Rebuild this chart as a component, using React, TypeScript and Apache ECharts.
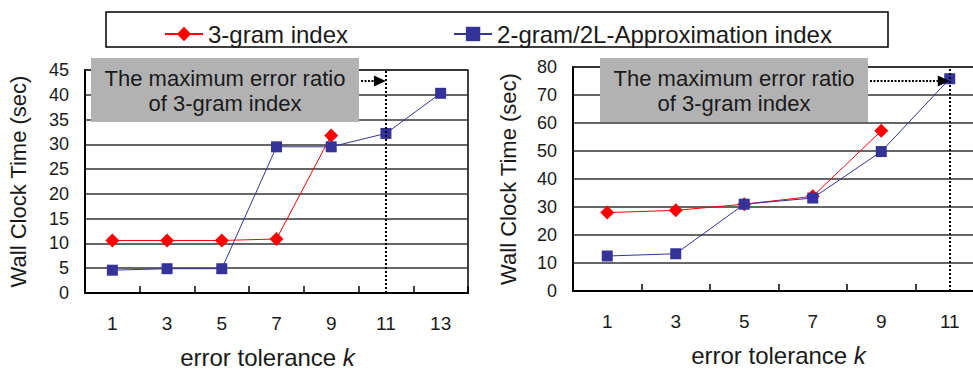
import React, { useEffect, useRef } from "react";
import * as echarts from "echarts";

const seriesNames = ["3-gram index", "2-gram/2L-Approximation index"];
const categoriesLeft = ["1", "3", "5", "7", "9", "11", "13"];
const gram3Left = [10.6, 10.6, 10.6, 10.9, 31.8, null, null];
const gram2Left = [4.6, 4.9, 4.9, 29.5, 29.5, 32.2, 40.3];
const categoriesRight = ["1", "3", "5", "7", "9", "11"];
const gram3Right = [28, 28.8, 31, 33.8, 57.2, null];
const gram2Right = [12.5, 13.3, 31, 33.2, 49.8, 75.8];
const yMaxLeft = 45;
const yStepLeft = 5;
const yMaxRight = 80;
const yStepRight = 10;
const annotationText = "The maximum error ratio\nof 3-gram index";
const arrowTargetCategory = "11";
const arrowLevelLeft = 42.8;
const arrowLevelRight = 75;

const FONT = "'Liberation Sans', Arial, sans-serif";
const RED = "#ff0000";
const BLUE = "#333399";

function xAxisCfg(data: string[], gridIndex: number, shift: number) {
  return {
    type: "category",
    gridIndex,
    data,
    boundaryGap: true,
    name: "error tolerance {k|k}",
    nameLocation: "middle",
    nameGap: 52,
    nameTextStyle: {
      fontFamily: FONT,
      fontSize: 24,
      lineHeight: 24,
      color: "#1a1a1a",
      padding: [0, shift, 0, 0],
      rich: { k: { fontStyle: "italic", fontFamily: FONT, fontSize: 24, lineHeight: 24, color: "#1a1a1a" } },
    },
    axisLine: { show: true, lineStyle: { color: "#000", width: 2 } },
    axisTick: { show: true, inside: true, length: 7, lineStyle: { color: "#000", width: 1.5 } },
    axisLabel: { fontFamily: FONT, fontSize: 19, color: "#1a1a1a", margin: 21 },
    splitLine: { show: false },
  };
}

function yAxisCfg(max: number, step: number, gridIndex: number, gap: number) {
  return {
    type: "value",
    gridIndex,
    min: 0,
    max,
    interval: step,
    name: "Wall Clock Time (sec)",
    nameLocation: "middle",
    nameGap: gap,
    nameTextStyle: { fontFamily: FONT, fontSize: 22, color: "#1a1a1a" },
    axisLine: { show: true, lineStyle: { color: "#000", width: 2 } },
    axisTick: { show: false },
    axisLabel: { fontFamily: FONT, fontSize: 18, color: "#1a1a1a", margin: 16 },
    splitLine: { show: true, lineStyle: { color: "#333", width: 1.5 } },
  };
}

function gram3Series(data: (number | null)[], idx: number) {
  return {
    name: seriesNames[0],
    type: "line",
    xAxisIndex: idx,
    yAxisIndex: idx,
    data,
    symbol: "diamond",
    symbolSize: 14,
    lineStyle: { color: RED, width: 1 },
    itemStyle: { color: RED },
    z: 3,
  };
}

function gram2Series(data: (number | null)[], idx: number) {
  return {
    name: seriesNames[1],
    type: "line",
    xAxisIndex: idx,
    yAxisIndex: idx,
    data,
    symbol: "rect",
    symbolSize: 11,
    lineStyle: { color: BLUE, width: 1 },
    itemStyle: { color: BLUE },
    z: 4,
    markLine: {
      silent: true,
      symbol: "none",
      label: { show: false },
      lineStyle: { color: "#000", type: "dotted", width: 2 },
      data: [{ xAxis: arrowTargetCategory }],
    },
  };
}

export default function App() {
  const ref = useRef<HTMLDivElement>(null);
  useEffect(() => {
    if (!ref.current) return;
    const chart = echarts.init(ref.current, null, { renderer: "svg" });
    chart.setOption({
      animation: false,
      backgroundColor: "#fff",
      textStyle: { fontFamily: FONT },
      legend: {
        data: seriesNames,
        left: 159,
        top: 17,
        itemWidth: 38,
        itemHeight: 18,
        itemGap: 105,
        textStyle: { fontFamily: FONT, fontSize: 24, color: "#1a1a1a" },
      },
      grid: [
        { left: 85, top: 70, width: 383, height: 223, show: true, borderColor: "#000", borderWidth: 1.5, containLabel: false, outerBoundsMode: "none" },
        { left: 573, top: 67, width: 411, height: 224, show: true, borderColor: "#000", borderWidth: 1.5, containLabel: false, outerBoundsMode: "none" },
      ],
      xAxis: [xAxisCfg(categoriesLeft, 0, 18), xAxisCfg(categoriesRight, 1, 0)],
      yAxis: [yAxisCfg(yMaxLeft, yStepLeft, 0, 56), yAxisCfg(yMaxRight, yStepRight, 1, 54)],
      series: [
        gram3Series(gram3Left, 0),
        gram2Series(gram2Left, 0),
        gram3Series(gram3Right, 1),
        gram2Series(gram2Right, 1),
      ],
    });

    const boxes = [
      { grid: 0, x: 91, level: arrowLevelLeft },
      { grid: 1, x: 600, level: arrowLevelRight },
    ];
    const graphics: any[] = [
      {
        type: "rect",
        shape: { x: 106, y: 12, width: 782, height: 35 },
        style: { fill: "none", stroke: "#000", lineWidth: 1.5 },
        z: 1,
      },
    ];
    boxes.forEach((b) => {
      const p = chart.convertToPixel({ gridIndex: b.grid } as any, [arrowTargetCategory, b.level]) as number[];
      const bw = 268;
      const bh = 64;
      const by = 58;
      graphics.push({
        type: "rect",
        shape: { x: b.x, y: by, width: bw, height: bh },
        style: { fill: "#b2b2b2" },
        z: 10,
      });
      graphics.push({
        type: "text",
        x: b.x + bw / 2,
        y: by + bh / 2 + 1,
        style: {
          text: annotationText,
          align: "center",
          verticalAlign: "middle",
          textAlign: "center",
          textVerticalAlign: "middle",
          font: `22px ${FONT}`,
          lineHeight: 25,
          fill: "#1a1a1a",
        },
        z: 11,
      });
      graphics.push({
        type: "line",
        shape: { x1: b.x + bw + 2, y1: p[1], x2: p[0] - 10, y2: p[1] },
        style: { stroke: "#000", lineWidth: 2, lineDash: [2, 1.5] },
        z: 11,
      });
      graphics.push({
        type: "polygon",
        shape: { points: [[p[0] - 12, p[1] - 5.5], [p[0], p[1]], [p[0] - 12, p[1] + 5.5]] },
        style: { fill: "#000" },
        z: 11,
      });
    });
    chart.setOption({ graphic: graphics });
    return () => chart.dispose();
  }, []);
  return (
    <div style={{ position: "fixed", left: 0, top: 0, width: 973, height: 372, overflow: "hidden", background: "#fff" }}>
      <div ref={ref} style={{ width: 995, height: 372 }} />
    </div>
  );
}
